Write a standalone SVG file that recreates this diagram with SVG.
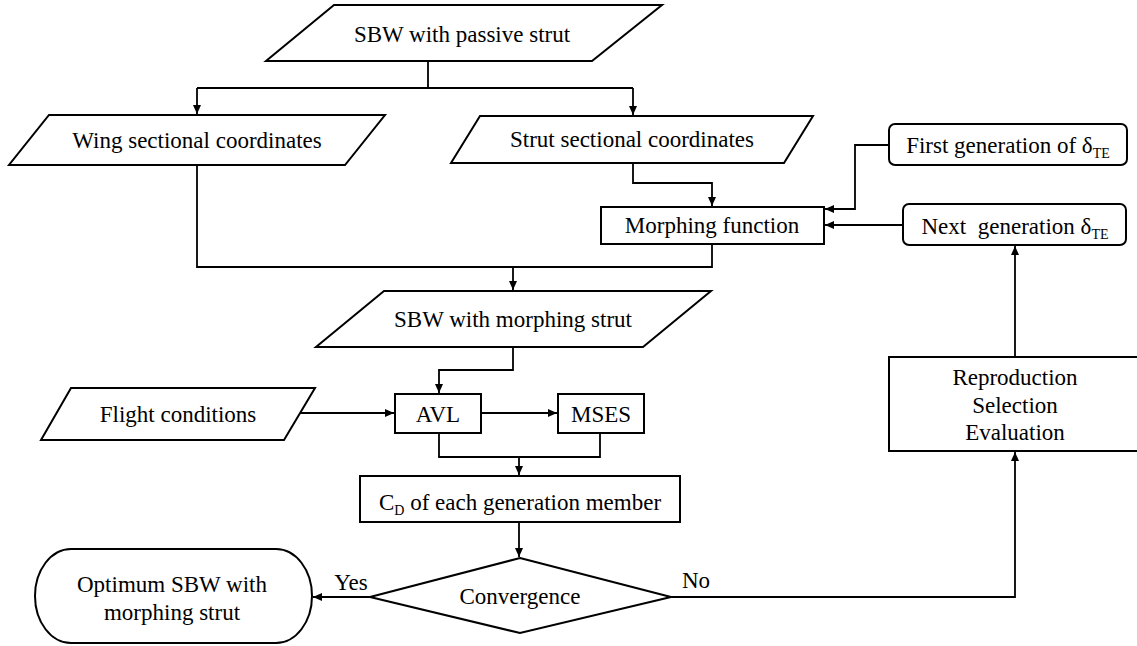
<svg xmlns="http://www.w3.org/2000/svg" width="1137" height="646" viewBox="0 0 1137 646" font-family="Liberation Serif, Times New Roman, serif">
<style>
.s{fill:#fff;stroke:#000;stroke-width:2;stroke-linejoin:miter}
.c{fill:none;stroke:#000;stroke-width:1.8}
text{font-size:23px;fill:#000;text-anchor:middle}
.sub{font-size:14px}
</style>
<defs>
<marker id="ah" markerUnits="userSpaceOnUse" markerWidth="10" markerHeight="8" refX="9" refY="4" orient="auto">
<path d="M0,0 L9,4 L0,8 z" fill="#000"/>
</marker>
</defs>
<rect width="1137" height="646" fill="#fff"/>
<g id="connectors">
<path class="c" d="M428,61 V88 M197,88 H633"/>
<path class="c" d="M197,88 V114" marker-end="url(#ah)"/>
<path class="c" d="M633,88 V115" marker-end="url(#ah)"/>
<path class="c" d="M633,163 V183 H712 V206" marker-end="url(#ah)"/>
<path class="c" d="M889,145 H855 V209 H825" marker-end="url(#ah)"/>
<path class="c" d="M903,225 H825" marker-end="url(#ah)"/>
<path class="c" d="M197,165 V267 H712 V244"/>
<path class="c" d="M513,267 V290" marker-end="url(#ah)"/>
<path class="c" d="M513,347 V370 H439 V393" marker-end="url(#ah)"/>
<path class="c" d="M300,413 H394" marker-end="url(#ah)"/>
<path class="c" d="M481,413 H557" marker-end="url(#ah)"/>
<path class="c" d="M439,433 V457 H600 V433"/>
<path class="c" d="M519,457 V475" marker-end="url(#ah)"/>
<path class="c" d="M519,522 V557" marker-end="url(#ah)"/>
<path class="c" d="M370,597 H313" marker-end="url(#ah)"/>
<path class="c" d="M671,597 H1015 V452" marker-end="url(#ah)"/>
<path class="c" d="M1015,357 V246" marker-end="url(#ah)"/>
</g>
<g id="n-sbw-passive">
<polygon class="s" points="334,5 662,5 592,61 266,61"/>
<text x="462" y="42">SBW with passive strut</text>
</g>
<g id="n-wing">
<polygon class="s" points="49,115 385,115 345,165 9,165"/>
<text x="197" y="148">Wing sectional coordinates</text>
</g>
<g id="n-strut">
<polygon class="s" points="480,116 813,116 784,163 451,163"/>
<text x="632" y="147">Strut sectional coordinates</text>
</g>
<g id="n-first">
<rect class="s" x="889" y="124" width="238" height="41" rx="6"/>
<text x="1008" y="153">First generation of δ<tspan class="sub" dy="5">TE</tspan></text>
</g>
<g id="n-morph">
<rect class="s" x="601" y="207" width="223" height="37"/>
<text x="712" y="233">Morphing function</text>
</g>
<g id="n-next">
<rect class="s" x="903" y="204" width="223" height="41" rx="6"/>
<text x="1015" y="234">Next&#160; generation δ<tspan class="sub" dy="5">TE</tspan></text>
</g>
<g id="n-sbw-morph">
<polygon class="s" points="384,291 711,291 643,347 316,347"/>
<text x="513" y="327">SBW with morphing strut</text>
</g>
<g id="n-flight">
<polygon class="s" points="71,388 315,388 284,440 41,440"/>
<text x="178" y="422">Flight conditions</text>
</g>
<g id="n-avl">
<rect class="s" x="395" y="394" width="86" height="39"/>
<text x="438" y="422">AVL</text>
</g>
<g id="n-mses">
<rect class="s" x="558" y="394" width="86" height="39"/>
<text x="601" y="422">MSES</text>
</g>
<g id="n-cd">
<rect class="s" x="360" y="476" width="320" height="46"/>
<text x="520" y="510">C<tspan class="sub" dy="5">D</tspan><tspan dy="-5"> of each generation member</tspan></text>
</g>
<g id="n-conv">
<polygon class="s" points="520,558 671,597 520,633 370,597"/>
<text x="520" y="604">Convergence</text>
</g>
<g id="n-opt">
<rect class="s" x="35" y="549" width="277" height="94" rx="36" ry="47"/>
<text x="172" y="592">Optimum SBW with</text>
<text x="172" y="620">morphing strut</text>
</g>
<g id="n-repro">
<rect class="s" x="889" y="357" width="252" height="94"/>
<text x="1015" y="385">Reproduction</text>
<text x="1015" y="413">Selection</text>
<text x="1015" y="440">Evaluation</text>
</g>
<g id="labels">
<text x="351" y="590">Yes</text>
<text x="696" y="588">No</text>
</g>
</svg>
